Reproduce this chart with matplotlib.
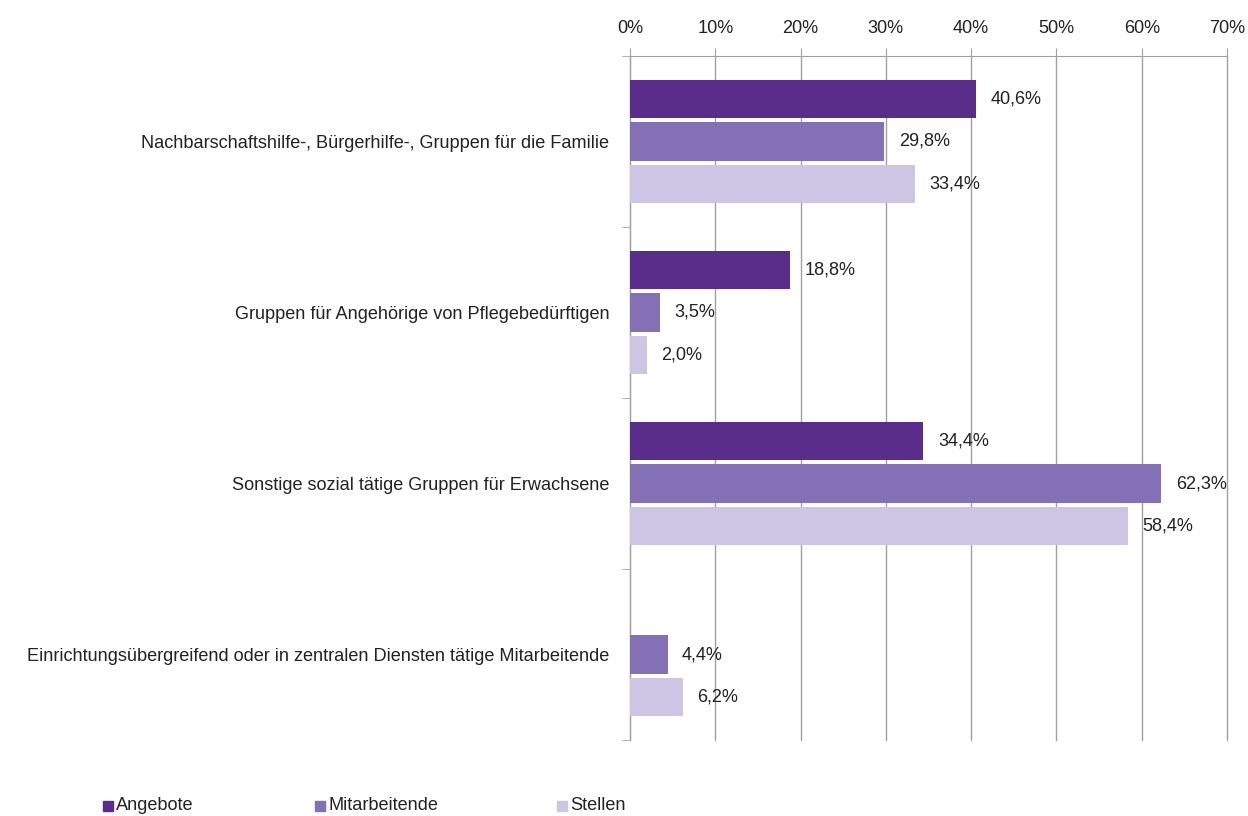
import numpy as np
import matplotlib.pyplot as plt
from matplotlib.patches import Rectangle

plt.rcParams['font.family'] = ['Liberation Sans', 'DejaVu Sans']

categories = [
    "Nachbarschaftshilfe-, Bürgerhilfe-, Gruppen für die Familie",
    "Gruppen für Angehörige von Pflegebedürftigen",
    "Sonstige sozial tätige Gruppen für Erwachsene",
    "Einrichtungsübergreifend oder in zentralen Diensten tätige Mitarbeitende",
]
series_names = ["Angebote", "Mitarbeitende", "Stellen"]
angebote = [40.6, 18.8, 34.4, None]
mitarbeitende = [29.8, 3.5, 62.3, 4.4]
stellen = [33.4, 2.0, 58.4, 6.2]
colors = ["#5b2d8a", "#8470b4", "#ccc5e3"]

fs = 13.1

fig = plt.figure(figsize=(12.48, 8.16), dpi=100)
ax = fig.add_axes([0.5048, 0.0931, 0.9832 - 0.5048, 0.9314 - 0.0931])

y = np.arange(len(categories))
offsets = [-0.247, 0.0, 0.247]
for vals, off, col in zip([angebote, mitarbeitende, stellen], offsets, colors):
    for i, v in enumerate(vals):
        if v is None:
            continue
        ax.barh(y[i] + off, v, height=0.224, color=col, zorder=3)
        ax.text(v + 1.7, y[i] + off, f"{v:.1f}%".replace(".", ","),
                va="center", ha="left", fontsize=fs, color="#222222")

ax.set_xlim(0, 70)
ax.set_ylim(len(categories) - 0.5, -0.5)
ax.xaxis.tick_top()
ax.set_xticks(np.arange(0, 71, 10))
ax.set_xticklabels([f"{t}%" for t in range(0, 71, 10)], fontsize=fs, color="#222222")
ax.tick_params(axis="x", direction="out", length=6, color="#a0a0a0", pad=7.5)
ax.grid(axis="x", color="#a0a0a0", linewidth=1, zorder=0)
for line in ax.get_xgridlines():
    line.set_clip_on(False)

ax.set_yticks(y)
ax.set_yticklabels(categories, fontsize=fs, color="#222222")
ax.set_yticks(np.arange(-0.5, len(categories), 1), minor=True)
ax.tick_params(axis="y", which="major", length=0, pad=15)
ax.tick_params(axis="y", which="minor", length=6, color="#a0a0a0")

for s in ["bottom", "right"]:
    ax.spines[s].set_visible(False)
for s in ["top", "left"]:
    ax.spines[s].set_color("#a0a0a0")

# legend along the bottom
leg_x = [103, 315, 557]
for name, col, x in zip(series_names, colors, leg_x):
    fig.patches.append(Rectangle((x / 1248, 1 - 811 / 816), 10 / 1248, 10 / 816,
                                 transform=fig.transFigure, color=col))
    fig.text((x + 13) / 1248, 1 - 806 / 816, name, va="center", ha="left",
             fontsize=fs, color="#222222")

fig.savefig("out.png", dpi=100)
